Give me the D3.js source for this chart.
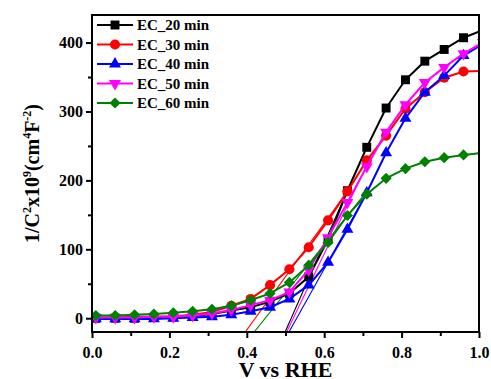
<!DOCTYPE html>
<html>
<head>
    <title>Mott-Schottky</title>
    <script src="https://d3js.org/d3.v7.min.js"></script>
    <style>
        body { margin: 0; background: #fff; }
        text { font-family: "Liberation Serif", "Times New Roman", serif; font-weight: bold; }
    </style>
</head>
<body>
<script>
    var w = 491;
    var h = 379;

    // potential (V vs RHE)
    var volts = [0.01, 0.06, 0.11, 0.16, 0.21, 0.26, 0.31, 0.36, 0.41, 0.46, 0.51,
                 0.56, 0.61, 0.66, 0.71, 0.76, 0.81, 0.86, 0.91, 0.96, 1.01];
    var ec20 = [0, 0, 0, 1, 2, 3, 6, 11, 16, 24, 36, 60, 114, 185, 248, 305, 346, 373, 390, 407, 418];
    var ec30 = [1, 1, 2, 2, 3, 5, 9, 18, 28, 48, 71, 103, 142, 184, 229, 265, 304, 328, 349, 358, 359];
    var ec40 = [-1, -1, -1, -1, 0, 1, 2, 5, 10, 16, 28, 48, 81, 129, 182, 240, 290, 328, 352, 381, 398];
    var ec50 = [1, 1, 1, 2, 2, 4, 7, 12, 19, 26, 38, 70, 117, 168, 220, 270, 310, 342, 364, 384, 400];
    var ec60 = [4, 4, 5, 6, 8, 10, 13, 18, 26, 36, 52, 77, 110, 149, 180, 203, 217, 227, 233, 237, 240];

    // linear fits, [V, value] end points
    var fit20 = [[0.499, -20], [0.71, 249]];
    var fit30 = [[0.396, -20], [0.66, 184]];
    var fit40 = [[0.509, -20], [0.71, 182]];
    var fit50 = [[0.503, -20], [0.71, 222]];
    var fit60 = [[0.419, -20], [0.71, 184]];

    var seriesNames = ["EC_20 min", "EC_30 min", "EC_40 min", "EC_50 min", "EC_60 min"];
    var xTicks = [0.0, 0.2, 0.4, 0.6, 0.8, 1.0];
    var yTicks = [0, 100, 200, 300, 400];

    var series = [
        {name: seriesNames[0], vals: ec20, fit: fit20, color: "#000000", sym: d3.symbolSquare, size: 80, rot: 0},
        {name: seriesNames[1], vals: ec30, fit: fit30, color: "#ff0000", sym: d3.symbolCircle, size: 80, rot: 0},
        {name: seriesNames[2], vals: ec40, fit: fit40, color: "#0000ff", sym: d3.symbolTriangle, size: 62, rot: 0},
        {name: seriesNames[3], vals: ec50, fit: fit50, color: "#ff00ff", sym: d3.symbolTriangle, size: 62, rot: 180},
        {name: seriesNames[4], vals: ec60, fit: fit60, color: "#008000", sym: d3.symbolSquare, size: 62, rot: 45}
    ];

    var padL = 92, padR = 479, padT = 15, padB = 332;

    var xScale = d3.scaleLinear().domain([0, 1.0]).range([padL, padR]);
    var yScale = d3.scaleLinear().domain([-20, 440]).range([padB, padT]);

    var svg = d3.select("body").append("svg")
                .attr("width", w)
                .attr("height", h);

    svg.append("clipPath").attr("id", "clip")
       .append("rect")
       .attr("x", padL).attr("y", padT)
       .attr("width", padR - padL).attr("height", padB - padT);

    var plot = svg.append("g").attr("clip-path", "url(#clip)");

    //fit lines under the data
    var fitLine = d3.line()
                    .x(function(d){return xScale(d[0]);})
                    .y(function(d){return yScale(d[1]);});
    series.forEach(function(s){
        plot.append("path")
            .attr("d", fitLine(s.fit))
            .attr("fill", "none")
            .attr("stroke", s.color)
            .attr("stroke-width", 1.1);
    });

    var line = d3.line()
                 .x(function(d, i){return xScale(volts[i]);})
                 .y(function(d){return yScale(d);});

    series.forEach(function(s){
        plot.append("path")
            .attr("d", line(s.vals))
            .attr("fill", "none")
            .attr("stroke", s.color)
            .attr("stroke-width", 2);
        plot.selectAll(null)
            .data(s.vals)
            .enter()
            .append("path")
            .attr("d", d3.symbol().type(s.sym).size(s.size))
            .attr("transform", function(d, i){
                return "translate(" + xScale(volts[i]) + "," + yScale(d) + ") rotate(" + s.rot + ")";
            })
            .attr("fill", s.color);
    });

    //axes
    var xAxis = d3.axisBottom(xScale).tickValues(xTicks).tickSize(6)
                  .tickFormat(d3.format(".1f"));
    var xMinor = d3.axisBottom(xScale).tickValues([0.1, 0.3, 0.5, 0.7, 0.9]).tickSize(4).tickFormat("");
    var yAxis = d3.axisLeft(yScale).tickValues(yTicks).tickSize(6);
    var yMinor = d3.axisLeft(yScale).tickValues([50, 150, 250, 350]).tickSize(4).tickFormat("");

    [xAxis, xMinor].forEach(function(a){
        var g = svg.append("g").attr("transform", "translate(0," + padB + ")").call(a);
        g.select(".domain").remove();
        g.selectAll("line").attr("stroke", "#000").attr("stroke-width", 2);
        g.selectAll("text").attr("font-size", "16px").attr("fill", "#000").attr("dy", "1.05em");
    });
    [yAxis, yMinor].forEach(function(a){
        var g = svg.append("g").attr("transform", "translate(" + padL + ",0)").call(a);
        g.select(".domain").remove();
        g.selectAll("line").attr("stroke", "#000").attr("stroke-width", 2);
        g.selectAll("text").attr("font-size", "16px").attr("fill", "#000").attr("x", -9);
    });

    //frame
    svg.append("rect")
       .attr("x", padL).attr("y", padT)
       .attr("width", padR - padL).attr("height", padB - padT)
       .attr("fill", "none")
       .attr("stroke", "#000")
       .attr("stroke-width", 2);

    //axis titles
    svg.append("text")
       .attr("x", (padL + padR) / 2)
       .attr("y", 377)
       .attr("text-anchor", "middle")
       .attr("font-size", "22px")
       .text("V vs RHE");

    var yt = svg.append("text")
                .attr("transform", "translate(39," + ((padT + padB) / 2) + ") rotate(-90)")
                .attr("text-anchor", "middle")
                .attr("font-size", "20px");
    yt.append("tspan").text("1/C");
    yt.append("tspan").attr("dy", -8).attr("font-size", "12px").text("2");
    yt.append("tspan").attr("dy", 8).text("x10");
    yt.append("tspan").attr("dy", -8).attr("font-size", "12px").text("9");
    yt.append("tspan").attr("dy", 8).text("(cm");
    yt.append("tspan").attr("dy", -8).attr("font-size", "12px").text("4");
    yt.append("tspan").attr("dy", 8).text("F");
    yt.append("tspan").attr("dy", -8).attr("font-size", "12px").text("-2");
    yt.append("tspan").attr("dy", 8).text(")");

    //legend
    var legend = svg.selectAll(".leg")
                    .data(series)
                    .enter()
                    .append("g")
                    .attr("transform", function(d, i){return "translate(97," + (25 + i * 19.5) + ")";});
    legend.append("line")
          .attr("x1", 0).attr("x2", 36)
          .attr("stroke", function(d){return d.color;})
          .attr("stroke-width", 2);
    legend.append("path")
          .attr("d", function(d){return d3.symbol().type(d.sym).size(d.size)();})
          .attr("transform", function(d){return "translate(18,0) rotate(" + d.rot + ")";})
          .attr("fill", function(d){return d.color;});
    legend.append("text")
          .attr("x", 40)
          .attr("dy", "0.35em")
          .attr("font-size", "15px")
          .text(function(d){return d.name;});
</script>
</body>
</html>
